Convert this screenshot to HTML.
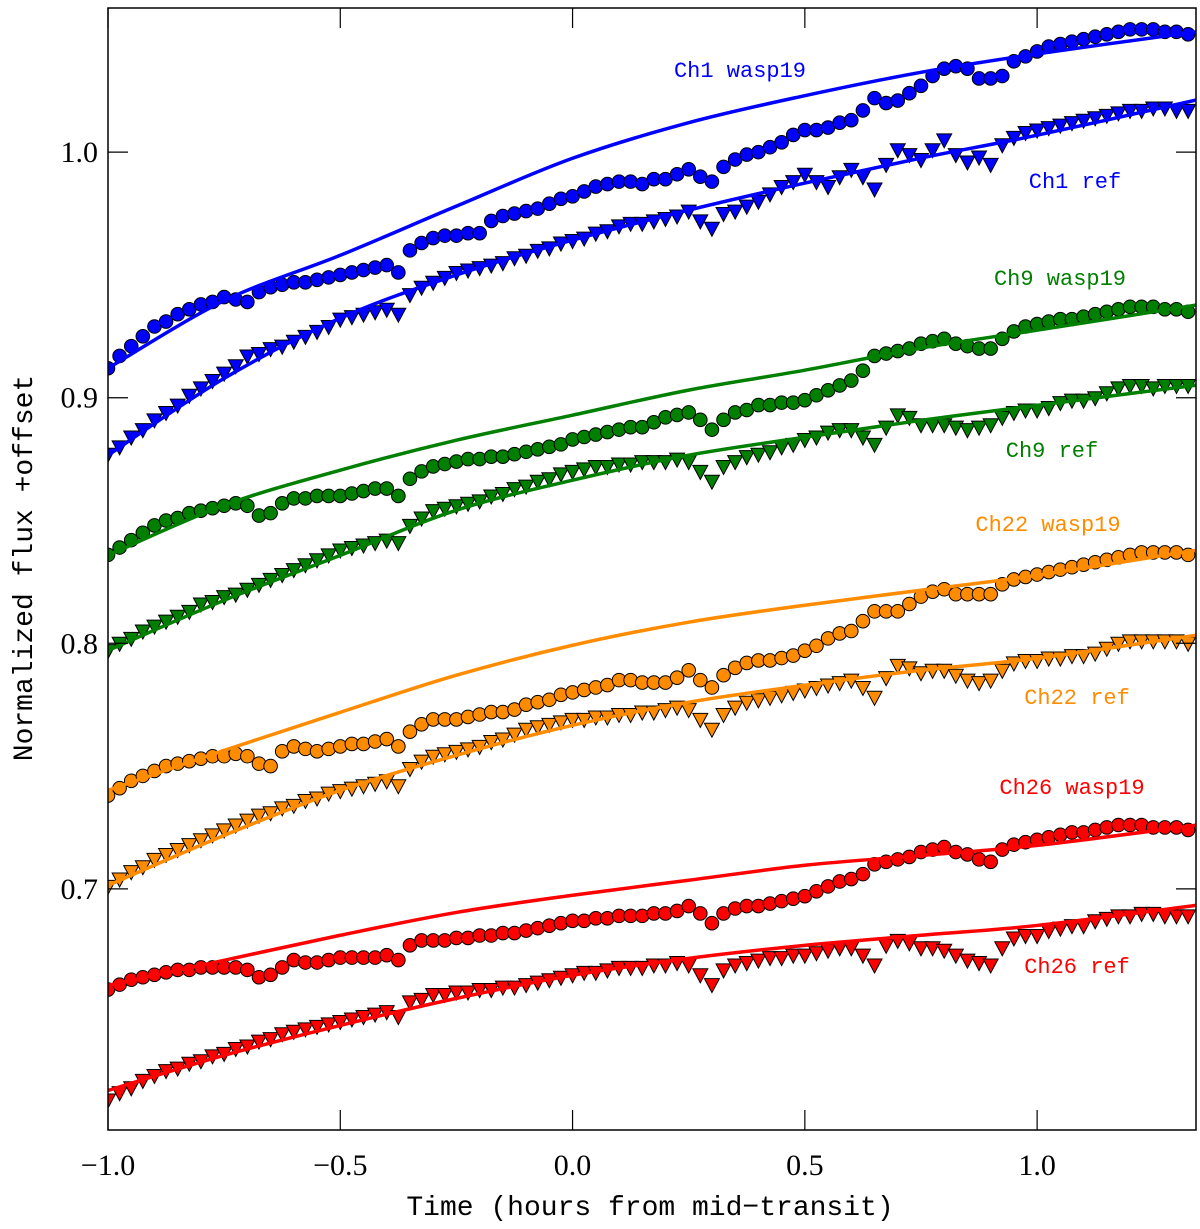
<!DOCTYPE html>
<html><head><meta charset="utf-8"><style>
html,body{margin:0;padding:0;background:#fff;}
svg{display:block;}
</style></head><body>
<svg id="chart" width="1200" height="1229" xmlns="http://www.w3.org/2000/svg"></svg>
<script>
const xTicks=[-1.0,-0.5,0.0,0.5,1.0];
const xTickLabels=["\u22121.0","\u22120.5","0.0","0.5","1.0"];
const yTicks=[0.7,0.8,0.9,1.0];
const yTickLabels=["0.7","0.8","0.9","1.0"];
const tStart=-1.0, tStep=0.025;
const modelTimes=[-1,-0.75,-0.5,-0.25,0,0.25,0.5,0.75,1.0,1.342];

const ch1Wasp=[0.912,0.917,0.921,0.925,0.929,0.931,0.934,0.936,0.938,0.939,0.941,0.940,0.939,0.943,0.945,0.946,0.947,0.947,0.948,0.949,0.950,0.951,0.952,0.953,0.954,0.951,0.960,0.963,0.965,0.966,0.966,0.967,0.967,0.972,0.974,0.975,0.976,0.977,0.979,0.981,0.982,0.984,0.986,0.987,0.988,0.988,0.987,0.989,0.989,0.991,0.993,0.990,0.988,0.994,0.997,0.999,1.000,1.002,1.004,1.007,1.009,1.009,1.010,1.012,1.013,1.017,1.022,1.020,1.021,1.024,1.027,1.031,1.034,1.035,1.034,1.030,1.030,1.031,1.037,1.039,1.041,1.043,1.044,1.045,1.046,1.047,1.048,1.049,1.050,1.050,1.050,1.049,1.049,1.048];
const ch1Ref=[0.877,0.880,0.884,0.887,0.891,0.894,0.897,0.901,0.904,0.907,0.910,0.913,0.917,0.918,0.920,0.921,0.923,0.925,0.927,0.929,0.932,0.933,0.934,0.935,0.936,0.934,0.942,0.945,0.947,0.949,0.951,0.952,0.953,0.954,0.955,0.957,0.958,0.960,0.961,0.963,0.964,0.965,0.967,0.968,0.970,0.971,0.971,0.972,0.973,0.974,0.976,0.972,0.969,0.975,0.976,0.978,0.980,0.983,0.986,0.988,0.991,0.988,0.986,0.990,0.993,0.990,0.985,0.995,1.001,0.999,0.997,1.001,1.005,0.999,0.996,0.998,0.995,1.003,1.006,1.008,1.009,1.010,1.011,1.012,1.013,1.014,1.015,1.016,1.017,1.017,1.018,1.018,1.017,1.017];
const ch9Wasp=[0.836,0.839,0.842,0.845,0.848,0.850,0.851,0.853,0.854,0.855,0.856,0.857,0.856,0.852,0.853,0.857,0.859,0.859,0.860,0.860,0.860,0.861,0.862,0.863,0.863,0.860,0.867,0.870,0.872,0.873,0.874,0.875,0.875,0.876,0.876,0.877,0.878,0.879,0.880,0.881,0.883,0.884,0.885,0.886,0.887,0.888,0.888,0.890,0.892,0.893,0.894,0.891,0.887,0.891,0.894,0.895,0.897,0.897,0.898,0.898,0.899,0.901,0.903,0.905,0.907,0.911,0.917,0.918,0.919,0.920,0.922,0.923,0.924,0.922,0.921,0.920,0.920,0.924,0.927,0.929,0.930,0.931,0.932,0.932,0.933,0.934,0.935,0.936,0.937,0.937,0.937,0.936,0.936,0.935];
const ch9Ref=[0.797,0.800,0.802,0.805,0.807,0.809,0.811,0.813,0.816,0.817,0.819,0.820,0.822,0.824,0.826,0.828,0.830,0.832,0.834,0.836,0.838,0.839,0.840,0.841,0.842,0.841,0.848,0.851,0.854,0.855,0.856,0.857,0.858,0.860,0.861,0.863,0.864,0.866,0.867,0.869,0.870,0.871,0.872,0.872,0.873,0.873,0.874,0.874,0.874,0.875,0.874,0.870,0.866,0.872,0.874,0.876,0.877,0.878,0.880,0.881,0.883,0.884,0.886,0.887,0.887,0.884,0.881,0.888,0.893,0.892,0.889,0.889,0.889,0.888,0.887,0.888,0.889,0.892,0.894,0.895,0.895,0.896,0.898,0.899,0.899,0.900,0.902,0.904,0.905,0.905,0.904,0.905,0.905,0.905];
const ch22Wasp=[0.738,0.741,0.744,0.746,0.748,0.750,0.751,0.752,0.753,0.754,0.754,0.755,0.754,0.751,0.750,0.756,0.758,0.757,0.756,0.757,0.758,0.759,0.759,0.760,0.761,0.758,0.764,0.767,0.769,0.769,0.769,0.770,0.771,0.772,0.772,0.773,0.775,0.776,0.777,0.779,0.780,0.781,0.782,0.783,0.785,0.785,0.784,0.784,0.784,0.786,0.789,0.785,0.782,0.787,0.790,0.792,0.793,0.793,0.794,0.795,0.797,0.799,0.802,0.804,0.805,0.809,0.813,0.813,0.813,0.816,0.819,0.821,0.822,0.820,0.820,0.820,0.820,0.824,0.826,0.827,0.828,0.829,0.830,0.831,0.832,0.833,0.834,0.835,0.836,0.837,0.837,0.837,0.837,0.836];
const ch22Ref=[0.701,0.704,0.707,0.709,0.712,0.714,0.716,0.718,0.720,0.722,0.724,0.726,0.728,0.730,0.731,0.733,0.734,0.736,0.737,0.739,0.740,0.741,0.742,0.743,0.744,0.742,0.749,0.752,0.754,0.755,0.756,0.757,0.758,0.760,0.761,0.763,0.765,0.766,0.767,0.768,0.769,0.769,0.770,0.770,0.771,0.771,0.772,0.772,0.773,0.774,0.773,0.769,0.765,0.771,0.774,0.776,0.777,0.778,0.779,0.780,0.781,0.782,0.783,0.784,0.785,0.782,0.778,0.786,0.791,0.790,0.788,0.789,0.789,0.787,0.785,0.784,0.785,0.789,0.792,0.793,0.793,0.794,0.794,0.795,0.795,0.796,0.798,0.800,0.801,0.801,0.801,0.801,0.801,0.800];
const ch26Wasp=[0.659,0.661,0.663,0.664,0.665,0.666,0.667,0.667,0.668,0.668,0.668,0.668,0.667,0.664,0.665,0.668,0.671,0.670,0.670,0.671,0.672,0.672,0.672,0.672,0.673,0.671,0.677,0.679,0.679,0.679,0.680,0.680,0.681,0.681,0.682,0.682,0.683,0.684,0.685,0.686,0.687,0.687,0.688,0.688,0.689,0.689,0.689,0.690,0.690,0.691,0.693,0.690,0.686,0.690,0.692,0.693,0.693,0.694,0.695,0.696,0.697,0.699,0.701,0.703,0.704,0.706,0.710,0.711,0.712,0.713,0.715,0.716,0.717,0.715,0.714,0.712,0.711,0.716,0.718,0.719,0.720,0.721,0.722,0.723,0.723,0.724,0.725,0.726,0.726,0.726,0.725,0.725,0.725,0.724];
const ch26Ref=[0.614,0.617,0.619,0.622,0.624,0.626,0.627,0.629,0.630,0.632,0.633,0.635,0.636,0.638,0.639,0.641,0.642,0.643,0.644,0.645,0.646,0.647,0.648,0.649,0.650,0.648,0.654,0.655,0.657,0.657,0.658,0.658,0.659,0.659,0.660,0.660,0.661,0.662,0.663,0.664,0.665,0.666,0.666,0.667,0.668,0.668,0.668,0.669,0.669,0.670,0.669,0.665,0.661,0.667,0.669,0.670,0.671,0.672,0.672,0.673,0.673,0.674,0.675,0.676,0.676,0.673,0.669,0.677,0.679,0.678,0.676,0.676,0.675,0.673,0.671,0.670,0.669,0.676,0.680,0.681,0.681,0.683,0.684,0.685,0.685,0.687,0.688,0.689,0.689,0.690,0.690,0.689,0.689,0.689];

const ch1WaspModel=[0.912,0.9395,0.958,0.978,0.9975,1.012,1.023,1.0325,1.040,1.049];
const ch1RefModel=[0.8766,0.9079,0.9324,0.950,0.9642,0.9764,0.9874,0.9976,1.0069,1.0212];
const ch9WaspModel=[0.8358,0.8562,0.8705,0.8827,0.8929,0.9031,0.9112,0.9202,0.9275,0.9377];
const ch9RefModel=[0.7971,0.8175,0.8358,0.8542,0.8664,0.8766,0.8839,0.8908,0.8969,0.9051];
const ch22WaspModel=[0.7401,0.7564,0.7719,0.787,0.7992,0.8086,0.8155,0.8216,0.8277,0.8379];
const ch22RefModel=[0.7014,0.7218,0.7401,0.7544,0.7666,0.776,0.7829,0.789,0.7939,0.8033];
const ch26WaspModel=[0.6607,0.6709,0.6811,0.6904,0.6974,0.7035,0.7096,0.7136,0.7177,0.7259];
const ch26RefModel=[0.6179,0.6322,0.6444,0.6554,0.6648,0.6717,0.677,0.6811,0.6851,0.6933];

const NS="http://www.w3.org/2000/svg";
const L=108,R=1196,T=8,B=1130;
const X0=-1.0,X1=1.342,Y0=0.6018,Y1=1.0587;
function xs(v){return L+(v-X0)/(X1-X0)*(R-L);}
function ys(v){return B-(v-Y0)/(Y1-Y0)*(B-T);}
const svg=document.getElementById('chart');
function mk(tag,attrs,parent){const e=document.createElementNS(NS,tag);for(const k in attrs)e.setAttribute(k,attrs[k]);(parent||svg).appendChild(e);return e;}

const defs=mk('defs',{});
const cp=mk('clipPath',{id:'clip'},defs);
mk('rect',{x:L,y:T,width:R-L,height:B-T},cp);

const plot=mk('g',{'clip-path':'url(#clip)'});



function smoothPath(xsArr,ysArr){
  const p=xsArr.map((x,i)=>[xs(x),ys(ysArr[i])]);
  let d='M'+p[0][0]+','+p[0][1];
  for(let i=0;i<p.length-1;i++){
    const p0=p[i-1]||p[i],p1=p[i],p2=p[i+1],p3=p[i+2]||p[i+1];
    const c1=[p1[0]+(p2[0]-p0[0])/6,p1[1]+(p2[1]-p0[1])/6];
    const c2=[p2[0]-(p3[0]-p1[0])/6,p2[1]-(p3[1]-p1[1])/6];
    d+=' C'+c1[0]+','+c1[1]+' '+c2[0]+','+c2[1]+' '+p2[0]+','+p2[1];
  }
  return d;
}
function drawSeries(vals,color,shape,name){
  const g=mk('g',{},plot);
  
  
  vals.forEach((v,i)=>{
    const t=tStart+i*tStep;
    const cx=xs(t),cy=ys(v);
    let m;
    if(shape==='circle'){
      m=mk('circle',{cx:cx,cy:cy,r:6.8,fill:color,stroke:'#000','stroke-width':1},g);
    }else{
      m=mk('polygon',{points:(cx-7.5)+','+(cy-6)+' '+(cx+7.5)+','+(cy-6)+' '+cx+','+(cy+8)},g);
      m.setAttribute('fill',color);
      m.setAttribute('stroke','#000');
      m.setAttribute('stroke-width','1');
    }
    
    
  });
}
function drawModel(vals,color,name){
  const p=mk('path',{d:smoothPath(modelTimes,vals),fill:'none',stroke:color,'stroke-width':3.5},plot);
  
  
}
const BLUE='#0000ff',GREEN='#007f00',ORANGE='#ff8c00',RED='#ff0000';
drawSeries(ch1Wasp,BLUE,'circle','ch1-wasp19-points');
drawSeries(ch1Ref,BLUE,'tri','ch1-ref-points');
drawSeries(ch9Wasp,GREEN,'circle','ch9-wasp19-points');
drawSeries(ch9Ref,GREEN,'tri','ch9-ref-points');
drawSeries(ch22Wasp,ORANGE,'circle','ch22-wasp19-points');
drawSeries(ch22Ref,ORANGE,'tri','ch22-ref-points');
drawSeries(ch26Wasp,RED,'circle','ch26-wasp19-points');
drawSeries(ch26Ref,RED,'tri','ch26-ref-points');
drawModel(ch1WaspModel,BLUE,'ch1-wasp19-model');
drawModel(ch1RefModel,BLUE,'ch1-ref-model');
drawModel(ch9WaspModel,GREEN,'ch9-wasp19-model');
drawModel(ch9RefModel,GREEN,'ch9-ref-model');
drawModel(ch22WaspModel,ORANGE,'ch22-wasp19-model');
drawModel(ch22RefModel,ORANGE,'ch22-ref-model');
drawModel(ch26WaspModel,RED,'ch26-wasp19-model');
drawModel(ch26RefModel,RED,'ch26-ref-model');

const frame=mk('rect',{x:L,y:T,width:R-L,height:B-T,fill:'none',stroke:'#000','stroke-width':1.5});



xTicks.forEach((v,i)=>{
  const x=xs(v);
  const t1=mk('line',{x1:x,x2:x,y1:B,y2:B-20,stroke:'#000','stroke-width':1.2});
  
  
  const t2=mk('line',{x1:x,x2:x,y1:T,y2:T+20,stroke:'#000','stroke-width':1.2});
  
  
  const lb=mk('text',{x:x,y:B+45,'text-anchor':'middle','font-family':'"Liberation Serif",serif','font-size':30});
  lb.textContent=xTickLabels[i];
  
  
});
yTicks.forEach((v,i)=>{
  const y=ys(v);
  const t1=mk('line',{x1:L,x2:L+20,y1:y,y2:y,stroke:'#000','stroke-width':1.2});
  
  
  const t2=mk('line',{x1:R,x2:R-20,y1:y,y2:y,stroke:'#000','stroke-width':1.2});
  
  
  const lb=mk('text',{x:L-10,y:y+10,'text-anchor':'end','font-family':'"Liberation Serif",serif','font-size':30});
  lb.textContent=yTickLabels[i];
  
  
});

const xt=mk('text',{x:650,y:1215,'text-anchor':'middle','font-family':'"Liberation Mono",monospace','font-size':28});
xt.textContent='Time (hours from mid\u2212transit)';


const yt=mk('text',{x:0,y:0,'text-anchor':'middle','font-family':'"Liberation Mono",monospace','font-size':28,transform:'translate(32,568) rotate(-90)'});
yt.textContent='Normalized flux +offset';



const labels=[["Ch1 wasp19",740,77,BLUE],["Ch1 ref",1075,188,BLUE],["Ch9 wasp19",1060,285,GREEN],["Ch9 ref",1052,457,GREEN],["Ch22 wasp19",1048,531,ORANGE],["Ch22 ref",1077,704,ORANGE],["Ch26 wasp19",1072,794,RED],["Ch26 ref",1077,973,RED]];
labels.forEach(a=>{
  const t=mk('text',{x:a[1],y:a[2],'text-anchor':'middle','font-family':'"Liberation Mono",monospace','font-size':22,fill:a[3]});
  t.textContent=a[0];
  
  
});
</script>
</body></html>
